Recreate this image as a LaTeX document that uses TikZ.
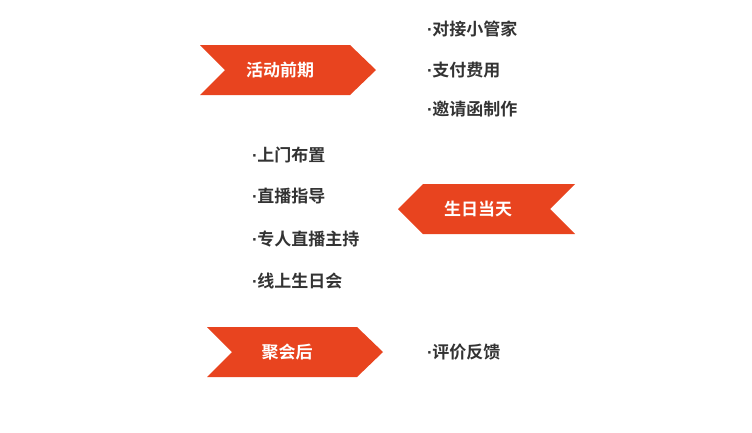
\documentclass[tikz,border=0pt]{standalone}
\usepackage{fontspec}
\newfontfamily\cjk{Noto Sans CJK SC}[BoldFont={Noto Sans CJK SC Bold}]
\newfontfamily\dotfont{Liberation Sans}
\newcommand{\itemdot}{{\dotfont\kern-1pt·\kern-0.5pt}}
\definecolor{bannerred}{HTML}{E8441F}
\definecolor{itemgray}{HTML}{333333}
\begin{document}
\begin{tikzpicture}[x=1pt, y=-1pt, every node/.style={font=\cjk\bfseries\fontsize{17}{17}\selectfont}]
    \useasboundingbox (0,0) rectangle (752,432);
    \tikzset{
        banner/.style={fill=bannerred},
        bannertext/.style={text=white},
        item/.style={text=itemgray, anchor=west, inner sep=0pt}
    }
    % right-pointing banners
    \foreach \name/\left/\top/\label in {before/200/45/活动前期, after/207/327/聚会后} {
        \fill[banner] (\left,\top) -- ++(150,0) -- ++(26,25) -- ++(-26,25) -- ++(-150,0) -- ++(25,-25) -- cycle;
        \node[bannertext] (\name) at (\left+80,\top+25) {\label};
    }
    % left-pointing banner
    \fill[banner] (575,184) -- (423,184) -- (398,209) -- (423,234) -- (575,234) -- (550,209) -- cycle;
    \node[bannertext] (day) at (478,209) {生日当天};
    % item lists
    \foreach \index/\y/\label in {1/29/对接小管家,2/70/支付费用,3/109/邀请函制作}
        \node[item] (before-\index) at (428,\y) {\itemdot\label};
    \foreach \index/\y/\label in {1/155/上门布置,2/196/直播指导,3/239/专人直播主持,4/281/线上生日会}
        \node[item] (day-\index) at (253,\y) {\itemdot\label};
    \node[item] (after-1) at (428,352) {\itemdot 评价反馈};
\end{tikzpicture}
\end{document}
